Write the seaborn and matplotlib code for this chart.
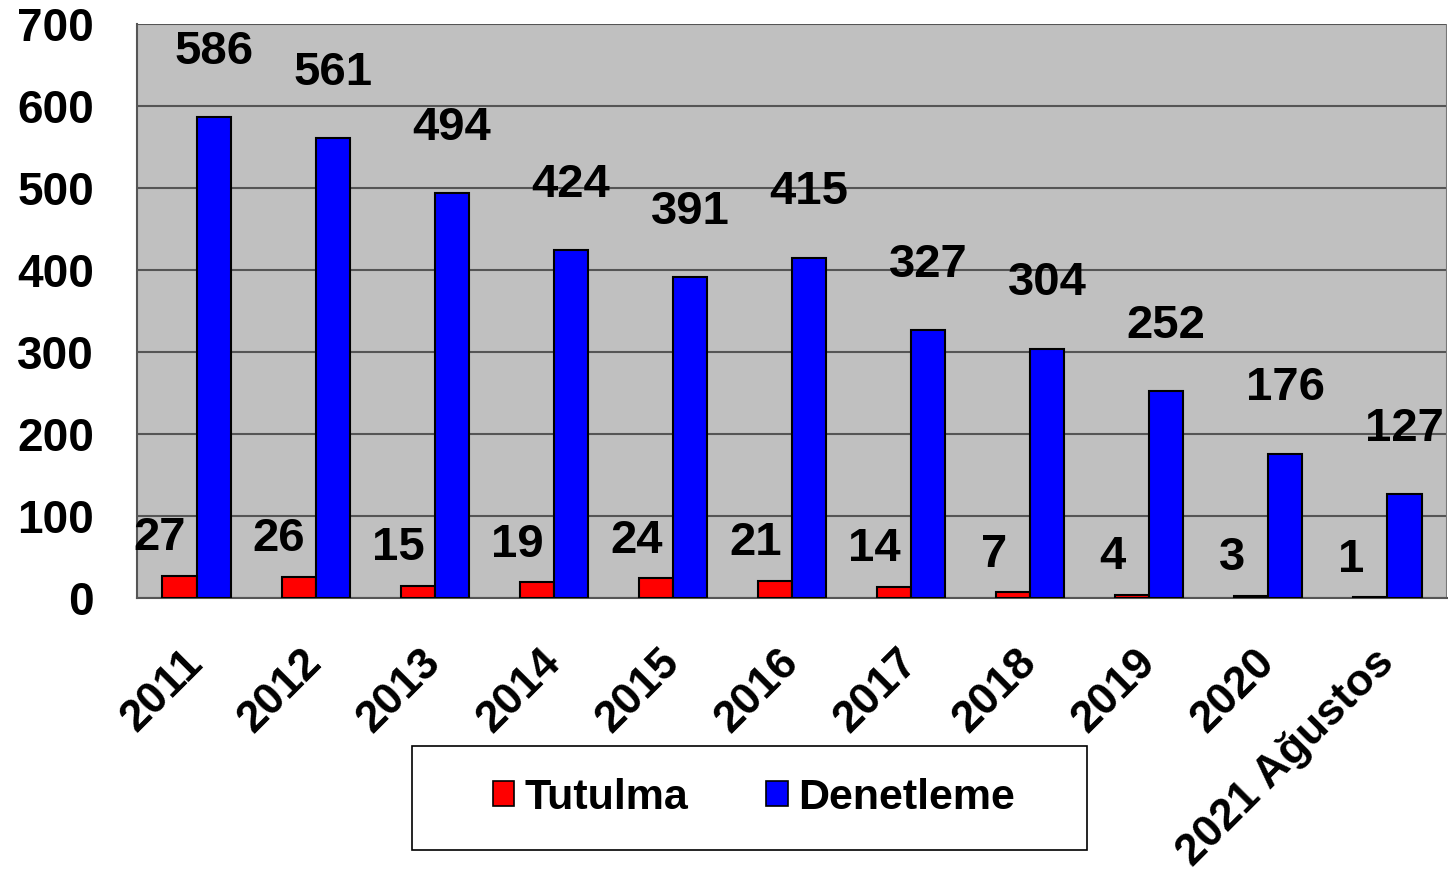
import pandas as pd
import seaborn as sns
import matplotlib.pyplot as plt
from matplotlib.patches import Rectangle, Patch

# data
years = ["2011", "2012", "2013", "2014", "2015", "2016",
         "2017", "2018", "2019", "2020", "2021 Ağustos"]
tutulma = [27, 26, 15, 19, 24, 21, 14, 7, 4, 3, 1]
denetleme = [586, 561, 494, 424, 391, 415, 327, 304, 252, 176, 127]
series = ["Tutulma", "Denetleme"]
colors = ["#FF0000", "#0000FF"]

df = pd.DataFrame({
    "Yil": years * 2,
    "Seri": [series[0]] * len(years) + [series[1]] * len(years),
    "Sayi": tutulma + denetleme,
})

sns.set_style("white")
plt.rcParams["font.family"] = ["Liberation Sans", "DejaVu Sans"]
plt.rcParams["font.weight"] = "bold"
plt.rcParams["text.color"] = "black"
plt.rcParams["xtick.color"] = "#555555"
plt.rcParams["ytick.color"] = "#555555"
plt.rcParams["xtick.labelcolor"] = "black"
plt.rcParams["ytick.labelcolor"] = "black"

fig = plt.figure(figsize=(14.48, 8.84), dpi=100)
ax = fig.add_axes([137 / 1448, 1 - 598 / 884, 1310 / 1448, 574 / 884])
ax.set_facecolor("#C0C0C0")

sns.barplot(data=df, x="Yil", y="Sayi", hue="Seri", palette=colors,
            width=0.572, edgecolor="black", linewidth=1.5,
            saturation=1, legend=False, ax=ax, zorder=3)

ax.set_xlim(-0.5, len(years) - 0.5)
ax.set_ylim(0, 700)
ax.set_yticks(range(0, 701, 100))
ax.yaxis.grid(True, color="#555555", linewidth=1.5, zorder=0)
ax.set_axisbelow(True)
ax.set_xlabel("")
ax.set_ylabel("")

# x ticks sit on category boundaries, labels on centers
ax.set_xticks([i - 0.5 for i in range(len(years) + 1)], minor=True)
ax.tick_params(axis="x", which="minor", length=11, width=1.5)
ax.tick_params(axis="x", which="major", length=0, pad=42)
ax.tick_params(axis="y", length=11, width=1.5, pad=20, labelsize=33)
ax.set_xticks(range(len(years)))
ax.set_xticklabels(years, rotation=45, ha="right", va="center",
                   rotation_mode="anchor", fontsize=32, fontweight="bold")
for lab in ax.get_yticklabels():
    lab.set_fontweight("bold")

for side in ["top", "right"]:
    ax.spines[side].set_visible(False)
ax.spines["left"].set_color("#555555")
ax.spines["left"].set_linewidth(1.5)
ax.spines["bottom"].set_color("#555555")
ax.spines["bottom"].set_linewidth(1.5)
ax.axvline(len(years) - 0.5, color="#777777", linewidth=1.5, zorder=1)

# value labels
red_bars, blue_bars = ax.containers[0], ax.containers[1]
for bar, v in zip(red_bars, tutulma):
    ax.annotate(str(v), (bar.get_x() + bar.get_width() / 2, bar.get_height()),
                xytext=(-14, 27), textcoords="offset points",
                ha="center", va="center", fontsize=34, fontweight="bold")
for bar, v in zip(blue_bars, denetleme):
    ax.annotate(str(v), (bar.get_x() + bar.get_width() / 2, bar.get_height()),
                xytext=(0, 47), textcoords="offset points",
                ha="center", va="center", fontsize=34, fontweight="bold")

# legend box
fig.patches.append(Rectangle((412 / 1448, 1 - 850 / 884), 675 / 1448, 104 / 884,
                             transform=fig.transFigure, facecolor="white",
                             edgecolor="black", linewidth=1.2))
handles = [Patch(facecolor=c, edgecolor="black", linewidth=1.2) for c in colors]
fig.legend(handles, series, loc="center", bbox_to_anchor=(754 / 1448, 1 - 798 / 884),
           frameon=False, ncol=2, handlelength=0.5, handleheight=0.5,
           handletextpad=0.25, columnspacing=1.8,
           prop={"weight": "bold", "size": 31})

fig.savefig("out.png", dpi=100)
